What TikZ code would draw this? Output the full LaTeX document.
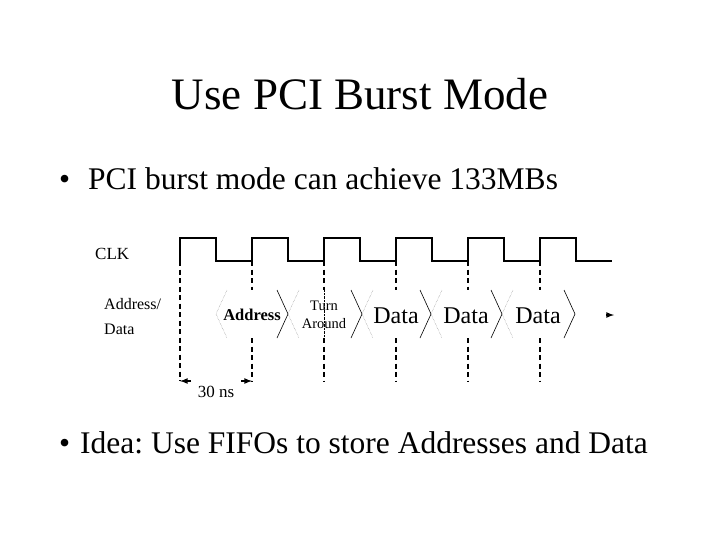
\documentclass[tikz,border=0pt]{standalone}
\usepackage{fontspec}
\setmainfont{Liberation Serif}
\usepackage{tikz}
\usetikzlibrary{arrows, positioning}
\frenchspacing
\tikzset{
    clk/.style={line width=1.8pt, line join=miter}, % segnale di clock
    edgeline/.style={line width=1.8pt, dash pattern=on 5pt off 3.5pt}, % fronti
    busin/.style={thin, black!55, densely dotted},
    busout/.style={line width=0.6pt},
    dimtip/.style={line width=1.6pt, -latex},
    siglabel/.style={inner sep=0pt, font=\fontsize{16}{25}\selectfont},
}

\begin{document}
\begin{tikzpicture}[x=1pt, y=-1pt]
        \useasboundingbox (0,0) rectangle (719,539);
        % Titolo
        \node[inner sep=0pt, anchor=base, font=\fontsize{45}{50}\selectfont] (title) at (360,109) {Use PCI Burst Mode};
        \node[inner sep=0pt, anchor=base west, font=\fontsize{31.5}{36}\selectfont] (p1) at (59,189) {\makebox[29pt][l]{\textbullet}PCI burst mode can achieve 133MBs};
        \node[inner sep=0pt, anchor=base west, font=\fontsize{31.5}{36}\selectfont] (p2) at (59,453) {\makebox[21pt][l]{\textbullet}Idea: Use FIFOs to store Addresses and Data};

        % Segnali
        \node[siglabel, anchor=base west, font=\fontsize{17}{19}\selectfont] (clklab) at (95,259) {CLK};
        \node[siglabel, anchor=base west, align=left] (buslab) at (104,334) {Address/\\Data};

        % Clock
        \draw[clk] (180,261) \foreach \x in {180,252,...,540} { -- (\x,261) -- (\x,238) -- (\x+36,238) -- (\x+36,261) } -- (612,261);

        % Fronti
        \foreach \i in {0,...,5} {
            \pgfmathsetmacro{\x}{180+72*\i}
            \coordinate (t\i) at (\x,261);
            \coordinate (u\i) at (\x,290);
            \coordinate (v\i) at (\x,338);
            \coordinate (w\i) at (\x,381);
        }
        \draw[edgeline] (t0) -- (w0);
        \foreach \i in {1,...,5} {
            \draw[edgeline] (t\i) -- (u\i);
            \draw[edgeline] (v\i) -- (w\i);
        }
        \draw[thin, densely dotted] (u2) -- (v2);

        % Bus
        \foreach \a/\b in {216/288, 288/362, 362/431, 431/502, 502/575} {
            \draw[busin] (\a+11,290) -- (\a,314) -- (\a+11,338);
            \draw[busout] (\b-11,290) -- (\b,314) -- (\b-11,338);
        }
        \node[siglabel, font=\bfseries\fontsize{16.5}{19}\selectfont] (addr) at (252,315) {Address};
        \node[siglabel, align=center, font=\fontsize{14.5}{18}\selectfont] (turn) at (324,315) {Turn\\Around};
        \node[siglabel, font=\fontsize{24}{28}\selectfont] (d1) at (396,316) {Data};
        \node[siglabel, font=\fontsize{24}{28}\selectfont] (d2) at (466,316) {Data};
        \node[siglabel, font=\fontsize{24}{28}\selectfont] (d3) at (538,316) {Data};
        \coordinate (busend) at (614,315);
        \coordinate (busarr) at (606,315);
        \draw[dimtip] (busarr) -- (busend);

        % Periodo
        \coordinate (m0) at (191,381);
        \coordinate (m1) at (241,381);
        \draw[dimtip] (m0) -- (w0);
        \draw[dimtip] (m1) -- (w1);
        \node[siglabel, font=\fontsize{17}{20}\selectfont] (period) at (216,392) {30 ns};
        \end{tikzpicture}
\end{document}
